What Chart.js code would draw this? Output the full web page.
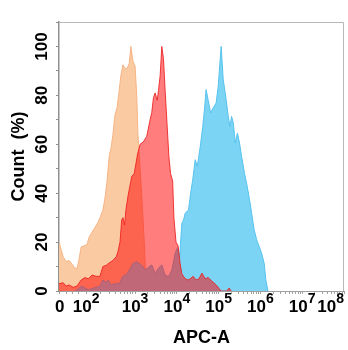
<!DOCTYPE html>
<html>
<head>
<meta charset="utf-8">
<script src="https://cdn.jsdelivr.net/npm/chart.js@4.4.1/dist/chart.umd.min.js"></script>
<style>
  html, body { margin: 0; padding: 0; background: #fff; }
  canvas { display: block; }
</style>
</head>
<body>
<canvas id="histo" width="348" height="350"></canvas>
<script>
// APC-A overlay histogram. X values are display decades on a biex-style axis
// (3 = 10^3 ... 8 = 10^8, the region below 10^2 is compressed toward "0").

const orangeX = [1.18, 1.23, 1.28, 1.35, 1.42, 1.49, 1.56, 1.61, 1.66, 1.71, 1.78, 1.85, 1.90, 1.97, 2.04,
  2.11, 2.16, 2.23, 2.28, 2.33, 2.38, 2.43, 2.47, 2.52, 2.57, 2.62, 2.66, 2.71, 2.76, 2.81, 2.86, 2.90,
  2.95, 3.00, 3.04, 3.07, 3.12, 3.17, 3.22, 3.25, 3.29, 3.34, 3.41];
const orangeY = [20, 17, 14, 12, 12.5, 11, 9.5, 9, 13, 18, 18.5, 19, 22, 24, 26,
  28, 30, 33, 38, 45, 55, 59, 64, 72, 75, 82, 88, 92.5, 91, 91, 93, 100,
  94, 92, 80, 64, 50, 36, 20, 8, 2, 0.5, 0];

const redX = [1.18, 1.28, 1.35, 1.42, 1.52, 1.61, 1.71, 1.80, 1.88, 1.97, 2.07, 2.16, 2.23, 2.31, 2.38,
  2.47, 2.55, 2.59, 2.64, 2.68, 2.71, 2.75, 2.78, 2.83, 2.92, 2.98, 3.00, 3.06, 3.12, 3.20, 3.28, 3.36,
  3.40, 3.44, 3.48, 3.53, 3.56, 3.60, 3.64, 3.68, 3.72, 3.77, 3.81, 3.85, 3.90, 3.93, 3.98, 4.03, 4.08,
  4.12, 4.20, 4.27, 4.32, 4.39, 4.46, 4.53, 4.60, 4.68, 4.75, 4.84, 4.94, 5.01, 5.06, 5.20, 5.25, 5.30];
const redY = [3, 3.4, 2, 2.5, 1.5, 2, 4.5, 5.5, 5, 6.5, 6, 6, 10, 10.5, 11.5,
  12.5, 14, 16, 20, 29, 30, 27, 33, 38.7, 46.8, 48, 50, 56, 60, 61, 63.3, 70,
  73, 79, 81, 78, 82, 88, 100, 95, 82, 67, 55, 48, 45, 30, 20, 18.5, 11,
  7, 5, 4.5, 5, 6, 4.5, 5, 7.3, 5, 5.5, 4, 2.5, 1, 0, 0, 1.2, 0];

const blueX = [1.56, 1.66, 1.71, 1.78, 1.88, 1.97, 2.07, 2.16, 2.23, 2.31, 2.35, 2.43, 2.52, 2.62, 2.71,
  2.81, 2.88, 2.95, 3.04, 3.12, 3.19, 3.24, 3.31, 3.40, 3.48, 3.56, 3.64, 3.72, 3.80, 3.88, 3.96, 4.02,
  4.07, 4.09, 4.12, 4.16, 4.20, 4.28, 4.33, 4.38, 4.44, 4.49, 4.56, 4.62, 4.66, 4.70, 4.75, 4.81, 4.87,
  4.94, 4.99, 5.06, 5.11, 5.18, 5.23, 5.27, 5.31, 5.35, 5.40, 5.45, 5.50, 5.55, 5.62, 5.67, 5.74, 5.79,
  5.85, 5.91, 5.97, 6.03, 6.09, 6.13, 6.18];
const blueY = [0, 1, 2, 1.5, 0.5, 1, 1.5, 2, 4.5, 3.5, 4.5, 2.5, 3, 3, 6,
  7, 9, 11.3, 12, 11, 10, 8.6, 9.5, 10.7, 7.3, 9.3, 10.7, 6.5, 5.9, 8.6, 15.5, 17.8,
  14, 20, 27.7, 29, 31.8, 33.2, 40, 45.5, 53.7, 51, 59, 67.3, 74, 82.4, 78, 72.8, 74.9,
  76.9, 83.7, 100, 86.5, 78.3, 71.4, 67.3, 71.4, 68.7, 60.5, 64.6, 60.5, 55, 48, 44, 37.3, 31.8,
  25, 21, 18.2, 15.4, 11.3, 4.5, 0];

// tick labels
const xLabelPos = [1.2, 1.83, 3, 4, 5, 6, 7, 8];
const xLabelExp = [null, '2', '3', '4', '5', '6', '7', '8'];
const yLabels = [0, 20, 40, 60, 80, 100];

const FONT = '"Liberation Sans", Arial, Helvetica, sans-serif';

function toPoints(xs, ys) {
  return xs.map((x, i) => ({ x: x, y: ys[i] }));
}

// small tick marks along the x axis: decade minors
function xTickMarks() {
  const marks = [1.2, 1.35, 1.5, 1.65];
  for (let k = 1; k <= 9; k++) marks.push(1.83 + 1.17 * Math.log10(k));
  for (let d = 3; d < 8; d++) {
    for (let k = 1; k <= 9; k++) marks.push(d + Math.log10(k));
  }
  marks.push(8);
  return marks;
}

const axisText = {
  id: 'axisText',
  afterDraw(chart) {
    const { ctx, chartArea: area, scales: { x, y } } = chart;
    ctx.save();

    // light frame on top and right
    ctx.strokeStyle = '#b8b8b8';
    ctx.lineWidth = 1;
    ctx.beginPath();
    ctx.moveTo(area.left, area.top + 0.5);
    ctx.lineTo(area.right - 0.5, area.top + 0.5);
    ctx.lineTo(area.right - 0.5, area.bottom);
    ctx.stroke();

    ctx.fillStyle = '#000';

    // y tick labels, turned to read bottom-up
    ctx.font = 'bold 17px ' + FONT;
    ctx.textAlign = 'center';
    ctx.textBaseline = 'alphabetic';
    yLabels.forEach(v => {
      ctx.save();
      ctx.translate(47, y.getPixelForValue(v));
      ctx.rotate(-Math.PI / 2);
      ctx.fillText(String(v), 0, 0);
      ctx.restore();
    });

    // x tick labels: "0", then 10 with a raised exponent
    const baseY = area.bottom + 21;
    const supY = area.bottom + 11.5;
    xLabelPos.forEach((pos, i) => {
      const px = x.getPixelForValue(pos);
      const exp = xLabelExp[i];
      ctx.textAlign = 'left';
      ctx.font = 'bold 17px ' + FONT;
      if (exp === null) {
        const w0 = ctx.measureText('0').width;
        ctx.fillText('0', px - w0 / 2, baseY);
        return;
      }
      const wBase = ctx.measureText('10').width;
      ctx.font = 'bold 14px ' + FONT;
      const wSup = ctx.measureText(exp).width;
      let left = px - (wBase + wSup) / 2;
      if (left + wBase + wSup > 344) left = 344 - wBase - wSup;
      ctx.font = 'bold 17px ' + FONT;
      ctx.fillText('10', left, baseY);
      ctx.font = 'bold 14px ' + FONT;
      ctx.fillText(exp, left + wBase, supY);
    });

    // axis titles
    ctx.font = 'bold 18px ' + FONT;
    ctx.textAlign = 'center';
    ctx.fillText('APC-A', (area.left + area.right) / 2, 343);

    ctx.save();
    ctx.translate(24, (area.top + area.bottom) / 2);
    ctx.rotate(-Math.PI / 2);
    ctx.fillText('Count  (%)', 0, 0);
    ctx.restore();

    ctx.restore();
  }
};

// draw order: orange at the back, blue over it, translucent red on top
new Chart(document.getElementById('histo'), {
  type: 'line',
  data: {
    datasets: [
      {
        label: 'red',
        data: toPoints(redX, redY),
        order: 0,
        fill: 'origin',
        backgroundColor: 'rgba(255, 5, 5, 0.52)',
        borderColor: 'rgba(236, 30, 30, 0.85)',
        borderWidth: 1
      },
      {
        label: 'blue',
        data: toPoints(blueX, blueY),
        order: 1,
        fill: 'origin',
        backgroundColor: 'rgb(124, 212, 245)',
        borderColor: 'rgb(86, 194, 238)',
        borderWidth: 1
      },
      {
        label: 'orange',
        data: toPoints(orangeX, orangeY),
        order: 2,
        fill: 'origin',
        backgroundColor: 'rgb(250, 202, 162)',
        borderColor: 'rgb(246, 180, 132)',
        borderWidth: 1
      }
    ]
  },
  options: {
    responsive: false,
    animation: false,
    layout: { padding: { top: 22, right: 4, left: 0, bottom: 0 } },
    elements: {
      point: { radius: 0 },
      line: { tension: 0 }
    },
    plugins: {
      legend: { display: false },
      tooltip: { enabled: false }
    },
    scales: {
      x: {
        type: 'linear',
        min: 1.18,
        max: 8,
        afterFit: s => { s.height = 59; },
        afterBuildTicks: s => { s.ticks = xTickMarks().map(v => ({ value: v })); },
        ticks: { display: false },
        grid: { drawOnChartArea: false, drawTicks: true, tickLength: 3, color: '#a0a0a0' },
        border: { display: true, color: '#a0a0a0', width: 1 }
      },
      y: {
        min: 0,
        max: 110,
        afterFit: s => { s.width = 59; },
        ticks: { display: false, stepSize: 10 },
        grid: { drawOnChartArea: false, drawTicks: true, tickLength: 3, color: '#909090' },
        border: { display: true, color: '#909090', width: 1.5 }
      }
    }
  },
  plugins: [axisText]
});
</script>
</body>
</html>
